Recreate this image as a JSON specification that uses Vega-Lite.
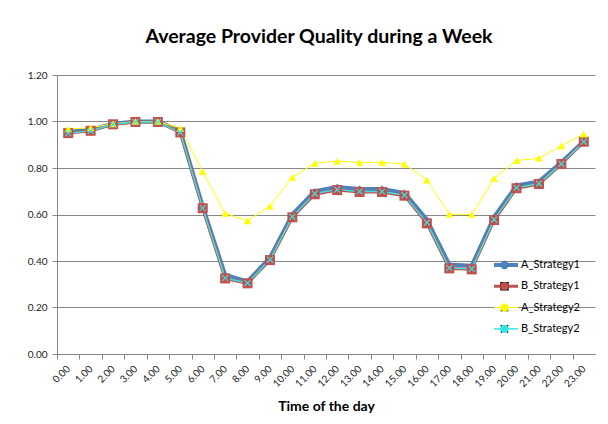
{
  "$schema": "https://vega.github.io/schema/vega-lite/v6.json",
  "width": 538,
  "height": 279,
  "autosize": {"type": "none"},
  "padding": {"left": 57, "top": 75, "right": 13, "bottom": 70},
  "background": "white",
  "config": {"view": {"stroke": null}, "font": "Lato"},
  "title": {"text": "Average Provider Quality during a Week", "fontSize": 19.5, "fontWeight": "bold", "font": "Lato", "color": "#000000", "anchor": "middle", "frame": "group", "offset": 23, "dx": -7},
  "data": {"values": [
    {"h":0,"s":"A_Strategy1","v":0.955},{"h":1,"s":"A_Strategy1","v":0.965},{"h":2,"s":"A_Strategy1","v":0.99},{"h":3,"s":"A_Strategy1","v":1.0},{"h":4,"s":"A_Strategy1","v":1.0},{"h":5,"s":"A_Strategy1","v":0.96},{"h":6,"s":"A_Strategy1","v":0.635},{"h":7,"s":"A_Strategy1","v":0.34},{"h":8,"s":"A_Strategy1","v":0.312},{"h":9,"s":"A_Strategy1","v":0.415},{"h":10,"s":"A_Strategy1","v":0.6},{"h":11,"s":"A_Strategy1","v":0.7},{"h":12,"s":"A_Strategy1","v":0.718},{"h":13,"s":"A_Strategy1","v":0.71},{"h":14,"s":"A_Strategy1","v":0.71},{"h":15,"s":"A_Strategy1","v":0.693},{"h":16,"s":"A_Strategy1","v":0.578},{"h":17,"s":"A_Strategy1","v":0.385},{"h":18,"s":"A_Strategy1","v":0.38},{"h":19,"s":"A_Strategy1","v":0.59},{"h":20,"s":"A_Strategy1","v":0.725},{"h":21,"s":"A_Strategy1","v":0.742},{"h":22,"s":"A_Strategy1","v":0.825},{"h":23,"s":"A_Strategy1","v":0.915},
    {"h":0,"s":"B_Strategy1","v":0.95},{"h":1,"s":"B_Strategy1","v":0.96},{"h":2,"s":"B_Strategy1","v":0.988},{"h":3,"s":"B_Strategy1","v":0.998},{"h":4,"s":"B_Strategy1","v":0.998},{"h":5,"s":"B_Strategy1","v":0.953},{"h":6,"s":"B_Strategy1","v":0.627},{"h":7,"s":"B_Strategy1","v":0.325},{"h":8,"s":"B_Strategy1","v":0.304},{"h":9,"s":"B_Strategy1","v":0.404},{"h":10,"s":"B_Strategy1","v":0.588},{"h":11,"s":"B_Strategy1","v":0.687},{"h":12,"s":"B_Strategy1","v":0.705},{"h":13,"s":"B_Strategy1","v":0.697},{"h":14,"s":"B_Strategy1","v":0.697},{"h":15,"s":"B_Strategy1","v":0.681},{"h":16,"s":"B_Strategy1","v":0.562},{"h":17,"s":"B_Strategy1","v":0.368},{"h":18,"s":"B_Strategy1","v":0.364},{"h":19,"s":"B_Strategy1","v":0.576},{"h":20,"s":"B_Strategy1","v":0.713},{"h":21,"s":"B_Strategy1","v":0.731},{"h":22,"s":"B_Strategy1","v":0.817},{"h":23,"s":"B_Strategy1","v":0.913},
    {"h":0,"s":"A_Strategy2","v":0.968},{"h":1,"s":"A_Strategy2","v":0.973},{"h":2,"s":"A_Strategy2","v":0.99},{"h":3,"s":"A_Strategy2","v":1.0},{"h":4,"s":"A_Strategy2","v":1.0},{"h":5,"s":"A_Strategy2","v":0.97},{"h":6,"s":"A_Strategy2","v":0.784},{"h":7,"s":"A_Strategy2","v":0.605},{"h":8,"s":"A_Strategy2","v":0.573},{"h":9,"s":"A_Strategy2","v":0.636},{"h":10,"s":"A_Strategy2","v":0.76},{"h":11,"s":"A_Strategy2","v":0.82},{"h":12,"s":"A_Strategy2","v":0.83},{"h":13,"s":"A_Strategy2","v":0.824},{"h":14,"s":"A_Strategy2","v":0.824},{"h":15,"s":"A_Strategy2","v":0.817},{"h":16,"s":"A_Strategy2","v":0.748},{"h":17,"s":"A_Strategy2","v":0.602},{"h":18,"s":"A_Strategy2","v":0.6},{"h":19,"s":"A_Strategy2","v":0.755},{"h":20,"s":"A_Strategy2","v":0.832},{"h":21,"s":"A_Strategy2","v":0.842},{"h":22,"s":"A_Strategy2","v":0.895},{"h":23,"s":"A_Strategy2","v":0.946},
    {"h":0,"s":"B_Strategy2","v":0.95},{"h":1,"s":"B_Strategy2","v":0.96},{"h":2,"s":"B_Strategy2","v":0.988},{"h":3,"s":"B_Strategy2","v":0.998},{"h":4,"s":"B_Strategy2","v":0.998},{"h":5,"s":"B_Strategy2","v":0.953},{"h":6,"s":"B_Strategy2","v":0.628},{"h":7,"s":"B_Strategy2","v":0.327},{"h":8,"s":"B_Strategy2","v":0.305},{"h":9,"s":"B_Strategy2","v":0.406},{"h":10,"s":"B_Strategy2","v":0.59},{"h":11,"s":"B_Strategy2","v":0.69},{"h":12,"s":"B_Strategy2","v":0.707},{"h":13,"s":"B_Strategy2","v":0.699},{"h":14,"s":"B_Strategy2","v":0.699},{"h":15,"s":"B_Strategy2","v":0.683},{"h":16,"s":"B_Strategy2","v":0.565},{"h":17,"s":"B_Strategy2","v":0.37},{"h":18,"s":"B_Strategy2","v":0.366},{"h":19,"s":"B_Strategy2","v":0.578},{"h":20,"s":"B_Strategy2","v":0.715},{"h":21,"s":"B_Strategy2","v":0.733},{"h":22,"s":"B_Strategy2","v":0.818},{"h":23,"s":"B_Strategy2","v":0.913}
  ]},
  "encoding": {
    "x": {"field": "h", "type": "ordinal", "scale": {"type": "point", "padding": 0.5},
      "axis": {"title": "Time of the day", "titleFont": "Lato", "titleFontSize": 14, "titleFontWeight": "bold", "titleColor": "#000000", "titlePadding": 11,
        "labelAngle": -45, "labelAlign": "right", "labelBaseline": "middle", "labelFontSize": 10, "labelColor": "#222222", "labelFont": "Lato",
        "labelExpr": "format(datum.value, '.2f')", "domainColor": "#878787", "tickColor": "#878787", "tickSize": 5,
        "tickOffset": -11.2, "labelOffset": 11.2, "labelPadding": 8, "grid": false}},
    "y": {"field": "v", "type": "quantitative", "scale": {"domain": [0, 1.2], "nice": false, "zero": true},
      "axis": {"title": null, "values": [0, 0.2, 0.4, 0.6, 0.8, 1.0, 1.2], "format": ".2f", "labelFontSize": 10, "labelColor": "#222222", "labelFont": "Lato",
        "gridColor": "#878787", "domainColor": "#878787", "tickColor": "#878787", "tickSize": 5, "labelPadding": 5}}
  },
  "layer": [
    {"mark": {"type": "line", "strokeJoin": "round"},
     "encoding": {
       "stroke": {"field": "s", "type": "nominal",
         "scale": {"domain": ["A_Strategy1", "B_Strategy1", "A_Strategy2", "B_Strategy2"], "range": ["#4F81BD", "#C0504D", "#FFFF00", "#33E6E6"]},
         "legend": {"orient": "none", "legendX": 435, "legendY": 184, "title": null, "symbolType": "stroke", "symbolSize": 576, "labelFont": "Lato", "labelFontSize": 11, "labelColor": "#000000", "clipHeight": 12, "rowPadding": 9.3, "labelOffset": 1}},
       "strokeWidth": {"field": "s", "type": "nominal",
         "scale": {"type": "ordinal", "domain": ["A_Strategy1", "B_Strategy1", "A_Strategy2", "B_Strategy2"], "range": [4, 3, 1, 1.5]},
         "legend": {"orient": "none", "legendX": 435, "legendY": 184, "title": null, "symbolType": "stroke", "symbolSize": 576, "labelFont": "Lato", "labelFontSize": 11, "labelColor": "#000000", "clipHeight": 12, "rowPadding": 9.3, "labelOffset": 1}}
     }},
    {"mark": {"type": "point", "filled": true, "opacity": 1, "strokeWidth": 0},
     "encoding": {
       "shape": {"field": "s", "type": "nominal", "sort": ["A_Strategy1", "B_Strategy1", "A_Strategy2", "B_Strategy2"],
         "scale": {"range": ["diamond", "square", "triangle-up", "M-1,-0.75L-0.75,-1L0,-0.25L0.75,-1L1,-0.75L0.25,0L1,0.75L0.75,1L0,0.25L-0.75,1L-1,0.75L-0.25,0Z"]},
         "legend": {"orient": "none", "legendX": 435, "legendY": 184, "title": null, "labelExpr": "''", "labelFontSize": 11, "clipHeight": 12, "rowPadding": 9.3, "symbolOffset": 7, "symbolStrokeWidth": 0, "symbolSize": 70}},
       "fill": {"field": "s", "type": "nominal", "sort": ["A_Strategy1", "B_Strategy1", "A_Strategy2", "B_Strategy2"],
         "scale": {"range": ["#4F81BD", "#C0504D", "#FFFF00", "#33E6E6"]},
         "legend": {"orient": "none", "legendX": 435, "legendY": 184, "title": null, "labelExpr": "''", "labelFontSize": 11, "clipHeight": 12, "rowPadding": 9.3, "symbolOffset": 7, "symbolStrokeWidth": 0, "symbolSize": 70}},
       "size": {"field": "s", "type": "nominal", "sort": ["A_Strategy1", "B_Strategy1", "A_Strategy2", "B_Strategy2"],
         "scale": {"type": "ordinal", "range": [45, 100, 60, 45]},
         "legend": null}
     }}
  ]
}
